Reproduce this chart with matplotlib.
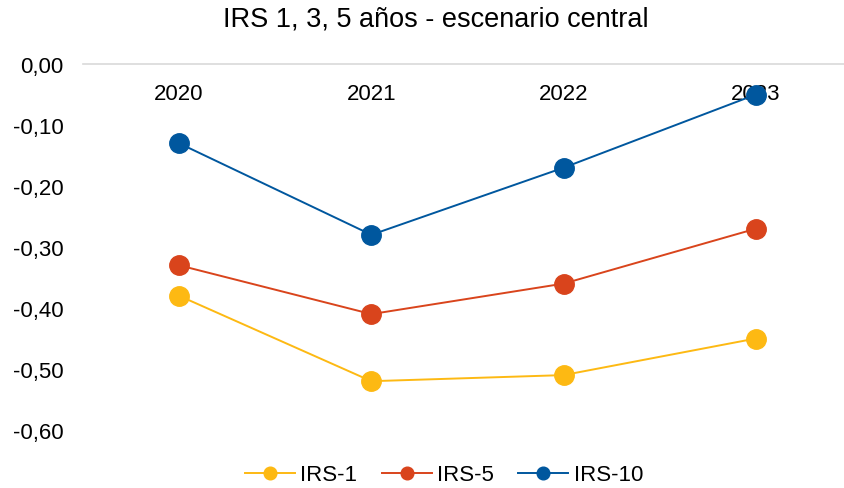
import matplotlib
matplotlib.use("Agg")
import matplotlib.pyplot as plt

plt.rcParams['font.family'] = ['Liberation Sans', 'DejaVu Sans']

years = ["2020", "2021", "2022", "2023"]
irs1 = [-0.38, -0.52, -0.51, -0.45]
irs5 = [-0.33, -0.41, -0.36, -0.27]
irs10 = [-0.13, -0.28, -0.17, -0.05]
yticks = [0.0, -0.1, -0.2, -0.3, -0.4, -0.5, -0.6]
series = [("IRS-1", irs1, "#FDB913"), ("IRS-5", irs5, "#D9441C"), ("IRS-10", irs10, "#00579E")]

fig = plt.figure(figsize=(8.45, 4.89), dpi=100)
ax = fig.add_axes([83/845, 1-431/489, (852-83)/845, (431-65)/489])

x = list(range(len(years)))
for name, vals, col in series:
    ax.plot(x, vals, color=col, lw=1.4, marker='o', markersize=14, label=name,
            clip_on=False, zorder=3)

ax.set_xlim(-0.5, len(years)-0.5)
ax.set_ylim(-0.6, 0.0)
ax.set_yticks(yticks)
ax.set_yticklabels([f"{v:.2f}".replace(".", ",") for v in yticks], fontsize=16)
ax.set_xticks(x)
ax.set_xticklabels(years, fontsize=16)
ax.xaxis.set_ticks_position('top')
ax.tick_params(axis='x', length=0, pad=-29)
ax.tick_params(axis='y', length=0, pad=14)
for s in ['left', 'right', 'bottom']:
    ax.spines[s].set_visible(False)
ax.spines['top'].set_color('#D9D9D9')
ax.spines['top'].set_linewidth(1.2)

fig.text(436/845, 1-20/489, "IRS 1, 3, 5 años - escenario central", fontsize=19.5,
         ha='center', va='center')

leg = fig.legend(loc='center', bbox_to_anchor=(444/845, 1-476/489), ncol=3, frameon=False,
                 fontsize=16, handlelength=2.25, columnspacing=1.1, handletextpad=0.25,
                 markerscale=0.65)

fig.savefig("out.png", dpi=100)
